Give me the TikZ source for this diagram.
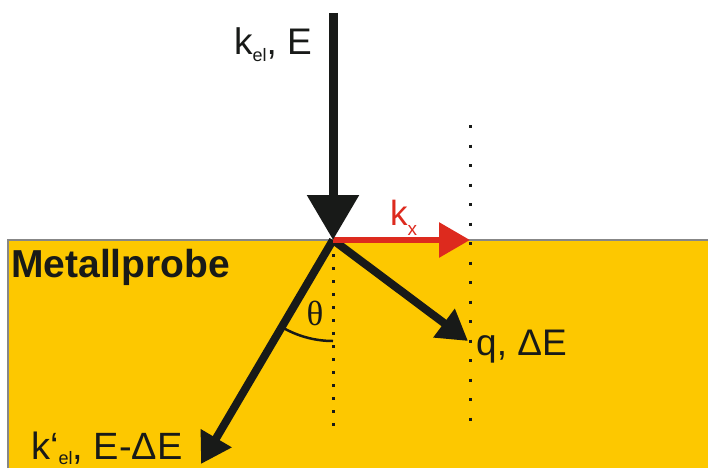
\documentclass[tikz,border=0pt]{standalone}
\usepackage{fontspec}
\setmainfont{Liberation Sans}
\newfontfamily\thetafont{Liberation Serif}
\usepackage{tikz}
\usepackage{xcolor}
\usetikzlibrary{positioning,arrows.meta,calc}
\definecolor{myyellow}{RGB}{253,200,0}
\definecolor{myred}{RGB}{221,42,30}
\definecolor{myblack}{RGB}{24,26,24}
\definecolor{mygray}{RGB}{135,135,135}
\newcommand{\lowsub}[3][18]{\raisebox{-#2}{\fontsize{#1}{#1}\selectfont #3}}
\tikzset{
    lbl/.style={
        anchor=base west,
        inner sep=0pt,
        text=myblack,
        font=\fontsize{37}{40}\selectfont
    },
    inbeam/.style={-{Triangle[length=45pt,width=50pt]},line width=9pt,myblack},
    beam/.style={-{Triangle[length=30pt,width=34pt]},line width=8pt,myblack},
    kvec/.style={-{Triangle[length=31pt,width=34pt]},line width=6pt,myred},
    guide/.style={myblack,line width=3pt,dash pattern=on 3pt off 16.5pt},
    shortguide/.style={guide,dash pattern=on 3pt off 10pt}
}

\begin{document}
\begin{tikzpicture}[x=1pt,y=-1pt]
\useasboundingbox (0,0) rectangle (708,468);
\fill[myyellow] (8,240) rectangle (708,468);
\draw[mygray,line width=1.5pt] (8,468) |- (708,240);
\coordinate (src) at (333,13);
\coordinate (hit) at (333,240);
\coordinate (kx) at (470,240);
\coordinate (q) at (468,341);
\coordinate (kout) at (201,464);
\coordinate (gl1) at (333,254.2);
\coordinate (gl2) at (333,426.5);
\coordinate (gr1) at (470,125.2);
\coordinate (gr2) at (470,421);
\draw[shortguide] (gl1) -- (gl2);
\draw[guide] (gr1) -- (gr2);
\draw[beam] (hit) -- (q);
\draw[beam] (hit) -- (kout);
\draw[kvec] (hit) -- (kx);
\draw[inbeam] (src) -- (hit);
\draw[myblack,line width=2.5pt] (hit) ++(0,101) arc[start angle=90,end angle=121,radius=101];
\node[lbl] (inlbl) at (234,55) {k\lowsub{7pt}{el}, E};
\node[lbl,font=\bfseries\fontsize{39}{40}\selectfont] (probe) at (11,277) {Metallprobe};
\node[lbl] (qlbl) at (476,355) {q, ΔE};
\node[lbl,font=\fontsize{38}{40}\selectfont] (outlbl) at (31,459) {k‘\lowsub{5pt}{el}, E-ΔE};
\node[lbl,text=myred,font=\fontsize{35}{36}\selectfont] (kxlbl) at (390,225) {k\lowsub[19]{10pt}{x}};
\node[inner sep=0pt,text=myblack,font=\thetafont\fontsize{35}{36}\selectfont] (thlbl) at (315,313) {θ};
\end{tikzpicture}
\end{document}
